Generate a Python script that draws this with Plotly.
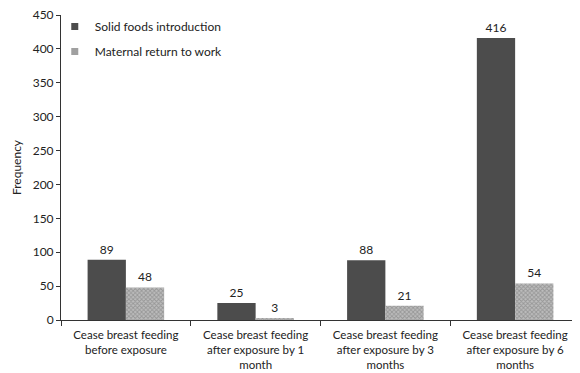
import plotly.graph_objects as go

categories = [
    "Cease breast feeding<br>before exposure",
    "Cease breast feeding<br>after exposure by 1<br>month",
    "Cease breast feeding<br>after exposure by 3<br>months",
    "Cease breast feeding<br>after exposure by 6<br>months",
]
solid_foods = [89, 25, 88, 416]
maternal_return = [48, 3, 21, 54]
series_names = ["Solid foods introduction", "Maternal return to work"]
y_ticks = [0, 50, 100, 150, 200, 250, 300, 350, 400, 450]

dark = "#4c4c4c"
fig = go.Figure()
fig.add_trace(go.Bar(
    x=categories, y=solid_foods, name=series_names[0], showlegend=False,
    marker=dict(color=dark, line=dict(width=0)),
    text=solid_foods, textposition="outside",
    textfont=dict(size=12, color="#222"), cliponaxis=False,
))
fig.add_trace(go.Bar(
    x=categories, y=maternal_return, name=series_names[1], showlegend=False,
    marker=dict(color="#b0b0b0", line=dict(width=0),
                pattern=dict(shape="x", size=3, solidity=0.5, fgcolor="#707070", bgcolor="#bdbdbd")),
    text=maternal_return, textposition="outside",
    textfont=dict(size=12, color="#222"), cliponaxis=False,
))
# legend-only entries with small square keys
fig.add_trace(go.Scatter(x=[None], y=[None], mode="markers", name=series_names[0],
                         legendgroup="a",
                         marker=dict(symbol="square", size=7, color=dark)))
fig.add_trace(go.Scatter(x=[None], y=[None], mode="markers", name=series_names[1],
                         legendgroup="b",
                         marker=dict(symbol="square", size=7, color="#a0a0a0")))

fig.update_layout(
    width=572, height=365,
    margin=dict(l=53, r=0, t=7, b=53),
    paper_bgcolor="white", plot_bgcolor="white",
    font=dict(family="Lato, Open Sans, sans-serif", size=12, color="#222"),
    barmode="group", bargap=0.41, bargroupgap=0,
    showlegend=True,
    legend=dict(x=-0.012, y=1.01, xanchor="left", yanchor="top",
                bgcolor="rgba(0,0,0,0)", font=dict(size=12),
                itemwidth=30, tracegroupgap=6, itemsizing="trace"),
    xaxis=dict(showline=True, linecolor="#333", linewidth=1, automargin=False,
               ticks="outside", tickson="boundaries", ticklen=5, tickcolor="#333",
               tickfont=dict(size=11.5), showgrid=False, tickangle=0,
               ticklabelstandoff=4, ticklabeloverflow="allow"),
    yaxis=dict(range=[0, 450], tickvals=y_ticks, showline=True, linecolor="#333",
               linewidth=1, ticks="outside", ticklen=4, tickcolor="#333",
               showgrid=False, zeroline=False, automargin=False,
               ticklabeloverflow="allow",
               title=dict(text="Frequency", font=dict(size=12), standoff=8)),
)

fig.write_html("out.html")
